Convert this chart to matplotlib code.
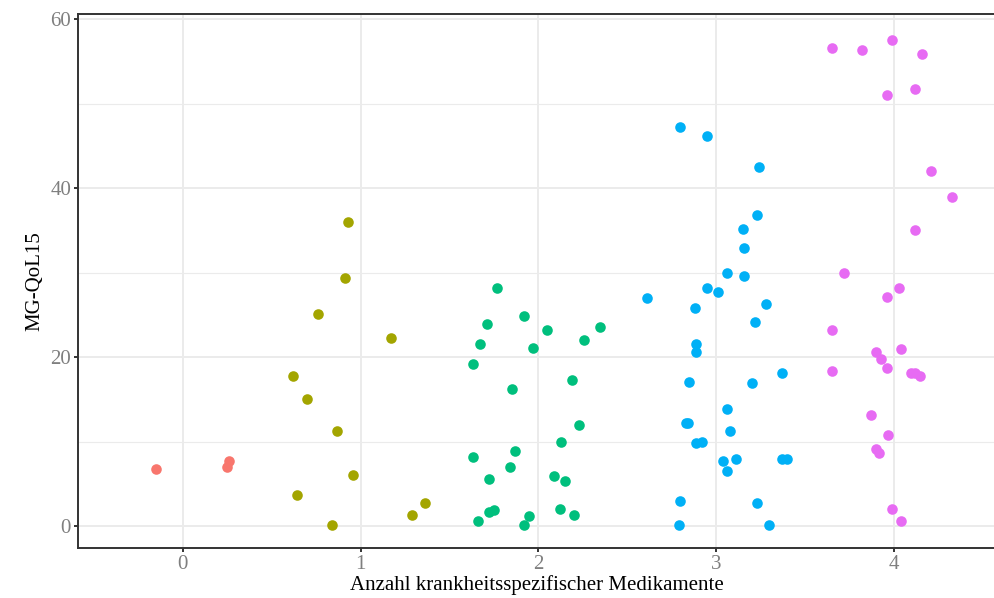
import numpy as np
import matplotlib
matplotlib.use("Agg")
import matplotlib.pyplot as plt

plt.rcParams.update({
    "font.family": ["Liberation Serif", "DejaVu Serif"],
})

# jittered x (number of medications) and MG-QoL15 scores, per group
x0 = [-0.15, 0.26, 0.25]
y0 = [6.8, 7.7, 7.0]

x1 = [0.93, 0.91, 0.76, 1.17, 0.62, 0.70, 0.87, 0.96, 0.64, 0.84, 1.29, 1.36]
y1 = [36.0, 29.3, 25.1, 22.2, 17.8, 15.0, 11.2, 6.0, 3.7, 0.1, 1.3, 2.7]

x2 = [1.77, 1.71, 1.92, 2.05, 2.35, 1.67, 2.26, 1.97, 1.63, 2.19, 1.85, 2.23, 2.13,
      1.87, 1.63, 1.84, 2.09, 1.72, 2.15, 2.12, 2.20, 1.72, 1.75, 1.95, 1.66, 1.92]
y2 = [28.2, 23.9, 24.9, 23.2, 23.5, 21.5, 22.0, 21.1, 19.2, 17.3, 16.2, 11.9, 9.9,
      8.9, 8.2, 7.0, 5.9, 5.6, 5.3, 2.0, 1.3, 1.7, 1.9, 1.2, 0.6, 0.1]

x3 = [2.80, 2.95, 3.24, 3.23, 3.15, 3.16, 3.06, 3.16, 2.95, 3.01, 2.61, 3.28, 2.88,
      3.22, 2.89, 2.89, 2.85, 3.20, 3.37, 3.06, 2.83, 2.84, 3.08, 2.89, 2.92, 3.04,
      3.11, 3.06, 3.37, 3.40, 2.80, 3.23, 2.79, 3.30]
y3 = [47.2, 46.2, 42.5, 36.8, 35.2, 32.9, 30.0, 29.6, 28.2, 27.7, 27.0, 26.3, 25.8,
      24.1, 21.5, 20.6, 17.0, 16.9, 18.1, 13.8, 12.2, 12.2, 11.2, 9.8, 10.0, 7.7,
      7.9, 6.5, 7.9, 7.9, 3.0, 2.7, 0.1, 0.1]

x4 = [3.65, 3.82, 3.99, 4.16, 3.96, 4.12, 4.21, 4.33, 4.12, 3.72, 4.03, 3.96, 3.65,
      3.90, 3.93, 3.96, 4.04, 3.65, 4.10, 4.12, 4.15, 3.87, 3.97, 3.90, 3.92, 3.99, 4.04]
y4 = [56.6, 56.3, 57.5, 55.9, 51.0, 51.7, 42.0, 38.9, 35.0, 30.0, 28.2, 27.1, 23.2,
      20.6, 19.8, 18.7, 20.9, 18.3, 18.1, 18.1, 17.8, 13.1, 10.8, 9.1, 8.6, 2.0, 0.6]

groups = [(x0, y0), (x1, y1), (x2, y2), (x3, y3), (x4, y4)]
colors = ["#F8766D", "#A3A500", "#00BF7D", "#00B0F6", "#E76BF3"]

fig = plt.figure(figsize=(9.95, 5.98), dpi=100)
ax = fig.add_axes([0.0784, 0.0836, 0.9216, 0.893])

for (gx, gy), c in zip(groups, colors):
    ax.scatter(gx, gy, s=58, color=c, linewidths=0, zorder=3)

ax.set_xlim(-0.59, 4.57)
ax.set_ylim(-2.6, 60.6)
ax.set_xticks([0, 1, 2, 3, 4])
ax.set_yticks([0, 20, 40, 60])
ax.set_yticks([10, 30, 50], minor=True)

ax.grid(True, which="major", color="#EBEBEB", linewidth=1.4)
ax.grid(True, which="minor", axis="y", color="#EBEBEB", linewidth=0.8)
ax.set_axisbelow(True)

for side in ["left", "bottom", "top"]:
    ax.spines[side].set_color("#333333")
    ax.spines[side].set_linewidth(1.4)
ax.spines["right"].set_visible(False)

ax.tick_params(axis="both", which="major", length=3, width=1.4, color="#333333",
               labelcolor="#7F7F7F", labelsize=15, pad=2)
ax.tick_params(axis="y", which="minor", length=0)

ax.set_xlabel("Anzahl krankheitsspezifischer Medikamente", fontsize=15, labelpad=1)
ax.set_ylabel("MG-QoL15", fontsize=15, labelpad=4)

fig.savefig("out.png", dpi=100)
